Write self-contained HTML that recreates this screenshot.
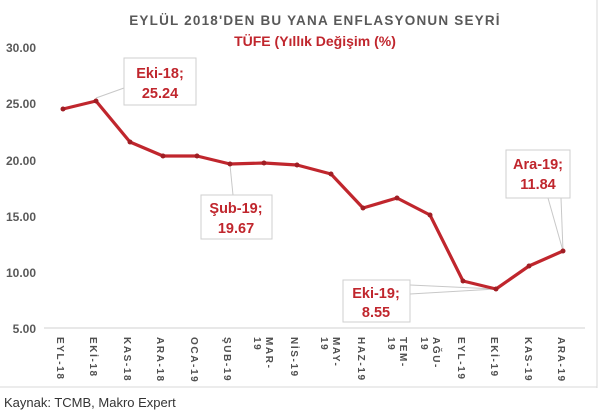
<!DOCTYPE html>
<html><head><meta charset="utf-8"><style>
body{margin:0;background:#fff;width:605px;height:414px;overflow:hidden}
svg{display:block}
</style></head><body>
<svg width="605" height="414" xmlns="http://www.w3.org/2000/svg" font-family="Liberation Sans, sans-serif">
<rect x="0" y="0" width="605" height="414" fill="#fff"/>
<line x1="597" y1="0" x2="597" y2="388" stroke="#d8d8d8"/>
<line x1="0" y1="387" x2="597" y2="387" stroke="#d8d8d8"/>
<text x="315" y="25" text-anchor="middle" font-size="13.5" font-weight="bold" fill="#595959" letter-spacing="1.2">EYLÜL 2018'DEN BU YANA ENFLASYONUN SEYRİ</text>
<text x="315" y="46" text-anchor="middle" font-size="14" font-weight="bold" fill="#c0262d">TÜFE (Yıllık Değişim (%)</text>
<g font-size="12" font-weight="bold" fill="#595959" text-anchor="end">
<text x="36" y="52">30.00</text><text x="36" y="108">25.00</text><text x="36" y="165">20.00</text>
<text x="36" y="221">15.00</text><text x="36" y="277">10.00</text><text x="36" y="333">5.00</text>
</g>
<line x1="44" y1="328" x2="585" y2="328" stroke="#d0d0d0"/>
<g font-size="10" font-weight="bold" fill="#505050" letter-spacing="1.6">
<text transform="translate(57,337) rotate(90)">EYL-18</text>
<text transform="translate(90,337) rotate(90)">EKİ-18</text>
<text transform="translate(124,337) rotate(90)">KAS-18</text>
<text transform="translate(157,337) rotate(90)">ARA-18</text>
<text transform="translate(191,337) rotate(90)">OCA-19</text>
<text transform="translate(224,337) rotate(90)">ŞUB-19</text>
<text transform="translate(266,337) rotate(90)">MAR-</text><text transform="translate(254,337) rotate(90)">19</text>
<text transform="translate(291,337) rotate(90)">NİS-19</text>
<text transform="translate(333,337) rotate(90)">MAY-</text><text transform="translate(321,337) rotate(90)">19</text>
<text transform="translate(358,337) rotate(90)">HAZ-19</text>
<text transform="translate(400,337) rotate(90)">TEM-</text><text transform="translate(388,337) rotate(90)">19</text>
<text transform="translate(433,337) rotate(90)">AĞU-</text><text transform="translate(421,337) rotate(90)">19</text>
<text transform="translate(458,337) rotate(90)">EYL-19</text>
<text transform="translate(491,337) rotate(90)">EKİ-19</text>
<text transform="translate(525,337) rotate(90)">KAS-19</text>
<text transform="translate(558,337) rotate(90)">ARA-19</text>
</g>
<g stroke="#c8c8c8" fill="none">
<line x1="96" y1="98" x2="124" y2="88"/>
<line x1="230" y1="165" x2="233" y2="195"/>
<line x1="496" y1="289" x2="410" y2="285"/><line x1="496" y1="289" x2="410" y2="294"/>
<line x1="563" y1="251" x2="548" y2="198"/><line x1="563" y1="251" x2="561" y2="198"/>
</g>
<polyline fill="none" stroke="#c0262d" stroke-width="3.2" stroke-linejoin="round" points="
63,109 96,101 130,142 163,156 197,156 230,164 264,163 297,165 331,174 363,208 397,198 430,215 463,281 496,289 529,266 563,251"/>
<g fill="#a01e24">
<circle cx="63" cy="109" r="2.5"/><circle cx="96" cy="101" r="2.5"/><circle cx="130" cy="142" r="2.5"/><circle cx="163" cy="156" r="2.5"/><circle cx="197" cy="156" r="2.5"/><circle cx="230" cy="164" r="2.5"/><circle cx="264" cy="163" r="2.5"/><circle cx="297" cy="165" r="2.5"/><circle cx="331" cy="174" r="2.5"/><circle cx="363" cy="208" r="2.5"/><circle cx="397" cy="198" r="2.5"/><circle cx="430" cy="215" r="2.5"/><circle cx="463" cy="281" r="2.5"/><circle cx="496" cy="289" r="2.5"/><circle cx="529" cy="266" r="2.5"/><circle cx="563" cy="251" r="2.5"/>
</g>
<g fill="#fff" stroke="#cfcfcf">
<rect x="124" y="58" width="72" height="47"/>
<rect x="201" y="195" width="71" height="44"/>
<rect x="343" y="280" width="67" height="42"/>
<rect x="506" y="150" width="64" height="48"/>
</g>
<g font-size="14.5" font-weight="bold" fill="#c0262d" text-anchor="middle">
<text x="160" y="78">Eki-18;</text><text x="160" y="98">25.24</text>
<text x="236" y="213">Şub-19;</text><text x="236" y="233">19.67</text>
<text x="376" y="298">Eki-19;</text><text x="376" y="317">8.55</text>
<text x="538" y="169">Ara-19;</text><text x="538" y="189">11.84</text>
</g>
<text x="4" y="407" font-size="13" fill="#333">Kaynak: TCMB, Makro Expert</text>
</svg>
</body></html>
